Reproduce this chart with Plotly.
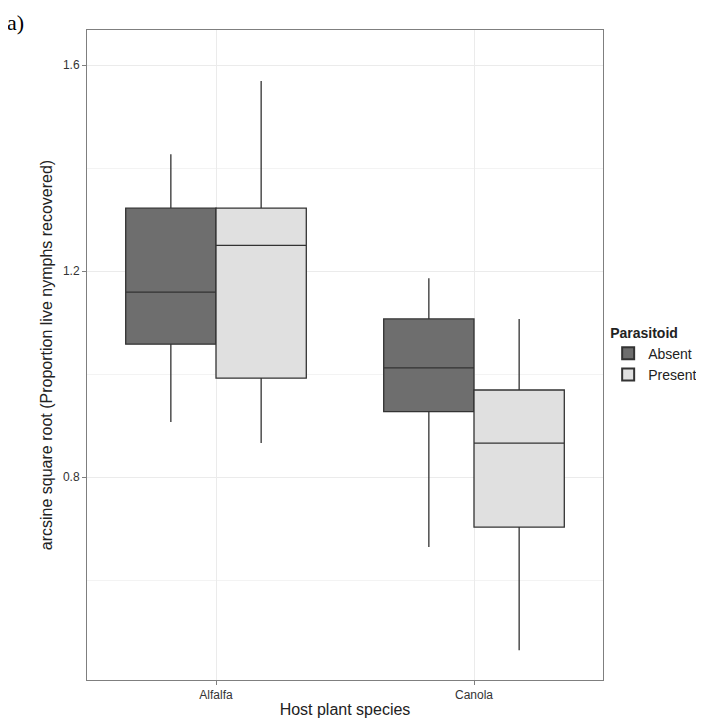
import plotly.graph_objects as go

hosts = ["Alfalfa", "Canola"]
absent_low = [0.907, 0.664]
absent_q1 = [1.058, 0.927]
absent_med = [1.159, 1.012]
absent_q3 = [1.322, 1.107]
absent_high = [1.427, 1.186]
present_low = [0.866, 0.464]
present_q1 = [0.992, 0.703]
present_med = [1.250, 0.866]
present_q3 = [1.322, 0.969]
present_high = [1.569, 1.107]

fig = go.Figure()
for name, lo, q1, md, q3, hi, col in [
    ("Absent", absent_low, absent_q1, absent_med, absent_q3, absent_high, "#6e6e6e"),
    ("Present", present_low, present_q1, present_med, present_q3, present_high, "#e0e0e0"),
]:
    fig.add_trace(go.Box(
        x=hosts, name=name, q1=q1, median=md, q3=q3, lowerfence=lo, upperfence=hi,
        fillcolor=col, line=dict(color="#333333", width=1.3), whiskerwidth=0,
        hoverinfo="skip",
    ))

# page body adds 8px offset, so margins are shifted to compensate
fig.update_layout(
    width=704, height=727, boxmode="group", boxgap=0.3, boxgroupgap=0,
    margin=dict(l=79, r=109, t=22, b=55, autoexpand=False),
    paper_bgcolor="white", plot_bgcolor="white",
    font=dict(family="Liberation Sans, Arial", color="#222222"),
    legend=dict(title=dict(text="<b>Parasitoid</b>", font=dict(size=14)),
                font=dict(size=14), x=1.01, y=0.5, yanchor="middle",
                tracegroupgap=0, itemsizing="constant", itemwidth=30),
    annotations=[dict(text="a)", x=0, y=1, xref="paper", yref="paper",
                      xanchor="left", yanchor="top", showarrow=False,
                      font=dict(family="Liberation Serif, Times New Roman", size=22, color="black"),
                      xshift=-82, yshift=22)],
)
fig.update_xaxes(title=dict(text="Host plant species", font=dict(size=16), standoff=2),
                 automargin=False,
                 showgrid=True, gridcolor="#ebebeb", showline=True, linecolor="#7f7f7f",
                 mirror=True, ticks="outside", tickcolor="#7f7f7f", ticklen=4,
                 tickfont=dict(size=12, color="#333333"))
fig.update_yaxes(title=dict(text="arcsine square root (Proportion live nymphs recovered)",
                            font=dict(size=16), standoff=6),
                 automargin=False,
                 range=[0.406, 1.668], tickvals=[0.8, 1.2, 1.6], ticktext=["0.8", "1.2", "1.6"],
                 showgrid=True, gridcolor="#ebebeb", zeroline=False,
                 minor=dict(tickvals=[0.6, 1.0, 1.4], showgrid=True, gridcolor="#f3f3f3"),
                 showline=True, linecolor="#7f7f7f", mirror=True, ticks="outside",
                 tickcolor="#7f7f7f", ticklen=4, tickfont=dict(size=12, color="#333333"))

fig.write_html("out.html")
